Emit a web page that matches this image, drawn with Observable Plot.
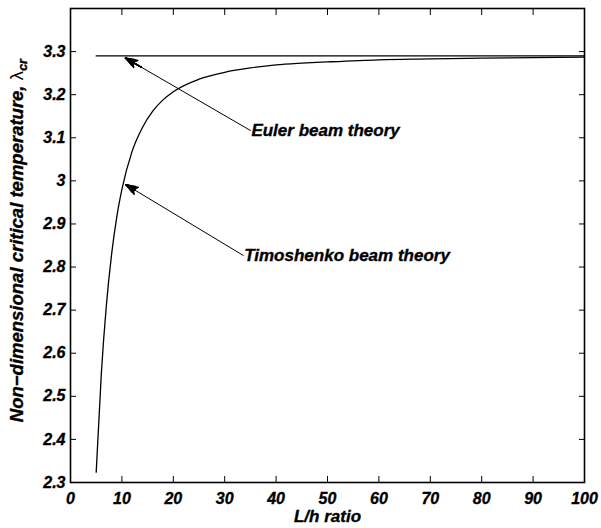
<!DOCTYPE html>
<html><head><meta charset="utf-8">
<script src="https://cdn.jsdelivr.net/npm/d3@7"></script>
<script src="https://cdn.jsdelivr.net/npm/@observablehq/plot@0.6"></script>
<style>
body{margin:0;background:#fff;}
#chart svg{display:block;}
#chart svg text{font-weight:bold;stroke:#000;stroke-width:0.35px;}
</style></head><body><div id="chart"></div>
<script>
// Data
const lhRatio = [5, 6, 7, 8, 9, 10, 12, 14, 16, 18, 20, 25, 30, 35, 40, 45, 50, 60, 70, 80, 90, 100];
const timoshenko = [2.324, 2.553, 2.714, 2.830, 2.916, 2.980, 3.069, 3.124, 3.162, 3.188, 3.207, 3.236, 3.252, 3.262, 3.269, 3.273, 3.276, 3.281, 3.283, 3.285, 3.286, 3.287];
const eulerX = [5, 100];
const eulerY = [3.29, 3.29];
const xTicks = [0, 10, 20, 30, 40, 50, 60, 70, 80, 90, 100];
const yTicks = [2.3, 2.4, 2.5, 2.6, 2.7, 2.8, 2.9, 3.0, 3.1, 3.2, 3.3];
const annLabels = ["Euler beam theory", "Timoshenko beam theory"];
const annTailX = [35.0, 33.6];
const annTailY = [3.117, 2.827];
const annTipX = [10.7, 10.8];
const annTipY = [3.285, 2.991];

const timoData = lhRatio.map((x, i) => ({x, y: timoshenko[i]}));
const eulerData = eulerX.map((x, i) => ({x, y: eulerY[i]}));
const annData = annLabels.map((t, i) => ({t, x1: annTailX[i], y1: annTailY[i], x2: annTipX[i], y2: annTipY[i]}));
const fmtY = d => (Math.abs(d - 3) < 1e-9 ? "3" : d3.format(".1f")(d));

// filled dart-like arrowhead built from stacked arrow heads (shafts trimmed with insetStart)
const headLayers = [[38, 13.5], [32, 12.6], [26, 11.8], [20, 11], [14, 10.4], [8, 9.8], [3, 9.4]];
const arrowMarks = [
  Plot.arrow(annData, {x1: "x1", y1: "y1", x2: "x2", y2: "y2", stroke: "#000", strokeWidth: 1, headLength: 14.5, headAngle: 44}),
  ...headLayers.map(([a, l]) =>
    Plot.arrow(annData, {x1: "x1", y1: "y1", x2: "x2", y2: "y2", stroke: "#000", strokeWidth: 1.4, headLength: l, headAngle: a, insetStart: 126}))
];

const chart = Plot.plot({
  width: 601,
  height: 528,
  marginLeft: 70,
  marginRight: 17,
  marginTop: 8,
  marginBottom: 46,
  style: {fontFamily: "'Liberation Sans', Arial, sans-serif", fontSize: "16px", fontWeight: "bold", fontStyle: "italic", color: "#000", background: "#fff"},
  x: {domain: [0, 100]},
  y: {domain: [2.3, 3.4]},
  marks: [
    Plot.axisX(xTicks, {anchor: "bottom", tickSize: 0, tickPadding: 10, fontWeight: "bold", label: "L/h ratio", labelArrow: "none", labelAnchor: "center", labelOffset: 39}),
    Plot.axisX(xTicks, {anchor: "bottom", tickSize: -6, tickFormat: () => "", label: null}),
    Plot.axisX(xTicks, {anchor: "top", tickSize: -6, tickFormat: () => "", label: null}),
    Plot.axisY(yTicks, {anchor: "left", tickSize: 0, tickPadding: 5, fontWeight: "bold", tickFormat: fmtY, label: "Non\u2212dimensional critical temperature, \u03bbcr", labelArrow: "none", labelAnchor: "center", labelOffset: 61}),
    Plot.axisY(yTicks, {anchor: "left", tickSize: -6, tickFormat: () => "", label: null}),
    Plot.axisY(yTicks, {anchor: "right", tickSize: -6, tickFormat: () => "", label: null}),
    Plot.line(eulerData, {x: "x", y: "y", stroke: "#000", strokeWidth: 1.4}),
    Plot.line(timoData, {x: "x", y: "y", stroke: "#000", strokeWidth: 1.3, curve: "monotone-x"}),
    ...arrowMarks,
    Plot.text(annData, {x: "x1", y: "y1", text: "t", textAnchor: "start", dx: 1, fontSize: 17, fontWeight: "bold", fontStyle: "italic", fill: "#000"}),
    Plot.frame({stroke: "#000", strokeWidth: 1.6})
  ]
});
document.getElementById("chart").appendChild(chart);

d3.select(chart).selectAll("text").each(function() {
  const t = d3.select(this);
  const s = t.text();
  if (s.includes("L/h ratio")) {
    t.text("L/h ratio").style("font-size", "17px");
  }
  if (s.includes("\u03bbcr")) {
    const base = "Non\u2212dimensional critical temperature, ";
    t.text(null).attr("dx", 5).style("font-size", "18.5px");
    t.append("tspan").text(base);
    t.append("tspan").style("font-weight", "normal").style("font-style", "normal").style("stroke-width", "0px").text("\u03bb");
    t.append("tspan").attr("dy", "0.3em").style("font-size", "13px").text("cr");
  }
});
</script>
</body></html>
